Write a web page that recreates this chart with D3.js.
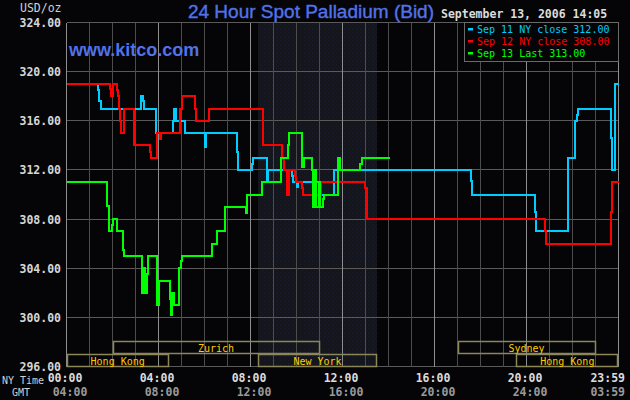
<!DOCTYPE html>
<html>
<head>
<meta charset="utf-8">
<script src="https://cdn.jsdelivr.net/npm/d3@7"></script>
<style>
  body { margin: 0; background: #050508; }
  svg { display: block; }
</style>
</head>
<body>
<svg id="chart" width="630" height="400"></svg>
<script>
// price axis + time axis
const yTicks = [296, 300, 304, 308, 312, 316, 320, 324];
const tickHours = [0, 4, 8, 12, 16, 20, 24];
const nyTickLabels = ["00:00", "04:00", "08:00", "12:00", "16:00", "20:00", "23:59"];
const gmtTickLabels = ["04:00", "08:00", "12:00", "16:00", "20:00", "24:00", "03:59"];

// Sep 11 (hours since NY midnight, bid)
const sep11Hours = [0, 1.37, 1.42, 1.48, 3.24, 3.33, 3.39, 3.87, 4.64, 4.68, 4.78, 5.14, 6.04, 6.08,
  7.42, 7.47, 8.06, 8.12, 8.72, 8.78, 9.81, 9.85, 10.03, 10.08, 10.97, 11.64, 17.59, 17.64,
  20.37, 20.42, 21.81, 22.1, 22.2, 22.25, 23.68, 23.72, 23.85, 24];
const sep11Values = [319, 318.5, 317.6, 317, 318, 317.6, 317, 315, 316, 317, 316, 315, 313.9, 315,
  313.5, 312, 312.5, 313, 311.2, 312, 311.5, 311, 310.6, 311, 310, 312, 311.1, 310,
  308.6, 307, 313, 316, 316.5, 317, 314.6, 312, 319, 319];

// Sep 12
const sep12Hours = [0, 1.9, 1.95, 2.0, 2.2, 2.24, 2.29, 2.33, 2.37, 2.5, 2.94, 3.64, 3.68, 3.94,
  4.05, 4.13, 4.93, 5.03, 5.59, 5.64, 6.19, 8.55, 9.37, 9.46, 9.6, 9.67, 9.93, 9.97, 10.23,
  10.29, 11.08, 12.97, 13.05, 20.8, 20.85, 23.68, 23.72, 24];
const sep12Values = [319, 318.6, 318, 319, 318.5, 318, 317, 316, 315, 317, 314, 313.5, 313, 315,
  314.5, 315, 317, 318, 317, 316, 317, 314, 313, 312, 310, 312, 311.5, 311, 310.5,
  310, 311, 310.5, 308, 307, 306, 308.6, 311, 311];

// Sep 13 (today, up to 14:05)
const sep13Hours = [0, 1.78, 1.83, 1.96, 2.0, 2.2, 2.46, 2.51, 3.29, 3.33, 3.42, 3.5, 3.54, 3.94,
  4.03, 4.49, 4.52, 4.55, 4.58, 4.68, 4.9, 4.99, 5.04, 6.33, 6.55, 6.91, 7.8, 7.86, 8.5, 9.33,
  9.64, 9.68, 10.24, 10.33, 10.68, 10.72, 10.8, 10.83, 10.98, 11.02, 11.16, 11.2, 11.81, 11.9,
  12.75, 12.83, 14.08];
const sep13Values = [311, 309.1, 307, 307.5, 308, 307, 305.5, 305, 302, 304, 302, 303.5, 305, 301,
  303, 301.5, 302, 300.2, 302, 301, 304, 304.6, 305, 306, 307, 309, 308.5, 310, 311, 313,
  314, 315, 312.2, 313, 312, 309, 312, 309, 311, 309, 309.6, 310, 313, 312,
  312.5, 313, 313];

const seriesLabels = ["Sep 11 NY close 312.00", "Sep 12 NY close 308.00", "Sep 13 Last 313.00"];
const seriesColors = ["#00ccff", "#ff0000", "#00ff00"];

// market sessions
const marketNames = ["Hong Kong", "Zurich", "New York", "Sydney", "Hong Kong"];
const marketStart = [0, 2, 8.33, 17, 19.55];
const marketEnd = [4.45, 11, 13.5, 23, 24];
const marketRow = [1, 0, 1, 0, 1];
const tradingStart = 8.33, tradingEnd = 13.5;

const svg = d3.select("#chart");
const mono = "'DejaVu Sans Mono', monospace";

const x = d3.scaleLinear().domain([0, 24]).range([66.5, 618.5]);
const y = d3.scaleLinear().domain([296, 324]).range([366.5, 22.5]);

// dotted pattern for the trading session shading
const defs = svg.append("defs");
const pat = defs.append("pattern")
  .attr("id", "dots").attr("width", 4).attr("height", 4)
  .attr("patternUnits", "userSpaceOnUse");
pat.append("rect").attr("width", 4).attr("height", 4).attr("fill", "#151619");
pat.append("rect").attr("x", 0).attr("y", 0).attr("width", 1).attr("height", 1).attr("fill", "#1a1d30");
pat.append("rect").attr("x", 2).attr("y", 2).attr("width", 1).attr("height", 1).attr("fill", "#1a1b22");

svg.append("rect")
  .attr("x", x(tradingStart)).attr("y", y(324))
  .attr("width", x(tradingEnd) - x(tradingStart))
  .attr("height", y(296) - y(324))
  .attr("fill", "url(#dots)");

// grid
const grid = svg.append("g").attr("shape-rendering", "crispEdges");
grid.selectAll("line.h")
  .data(yTicks)
  .join("line")
  .attr("x1", x(0)).attr("x2", x(24))
  .attr("y1", d => y(d)).attr("y2", d => y(d))
  .attr("stroke", "#5a5a5a");

grid.selectAll("line.v")
  .data(d3.range(0, 25))
  .join("line")
  .attr("x1", d => x(d)).attr("x2", d => x(d))
  .attr("y1", y(324)).attr("y2", y(296))
  .attr("stroke", d => d % 4 === 0 ? "#8e8e8e" : "#4c4c4c");

// y labels
svg.append("g").selectAll("text")
  .data(yTicks)
  .join("text")
  .attr("x", 61).attr("y", d => y(d) + 0.5)
  .attr("text-anchor", "end")
  .attr("dominant-baseline", "central")
  .attr("font-family", mono).attr("font-weight", "bold").attr("font-size", 11.5)
  .attr("fill", "#d6d6d6")
  .text(d => d.toFixed(2));

svg.append("text").attr("x", 20).attr("y", 12)
  .attr("font-family", mono).attr("font-size", 11.5).attr("fill", "#cfcfcf")
  .text("USD/oz");

// session boxes
const rowTop = [341, 354];
const boxes = svg.append("g");
marketNames.forEach((name, i) => {
  const x0 = x(marketStart[i]), x1 = x(marketEnd[i]);
  const top = rowTop[marketRow[i]] + 0.5;
  boxes.append("rect")
    .attr("x", Math.round(x0) + 0.5).attr("y", top)
    .attr("width", Math.round(x1 - x0) - 1).attr("height", 12)
    .attr("fill", "none").attr("stroke", "#8c8758").attr("stroke-width", 1.5);
  boxes.append("text")
    .attr("x", (x0 + x1) / 2).attr("y", top + 6.5)
    .attr("text-anchor", "middle").attr("dominant-baseline", "central")
    .attr("font-family", mono).attr("font-size", 10).attr("fill", "#ffcc00")
    .text(name);
});

// price lines
const line = d3.line()
  .x(d => x(d[0]))
  .y(d => y(d[1]))
  .curve(d3.curveStepAfter);

const seriesData = [
  d3.zip(sep11Hours, sep11Values),
  d3.zip(sep12Hours, sep12Values),
  d3.zip(sep13Hours, sep13Values)
];

svg.append("g").selectAll("path")
  .data(seriesData)
  .join("path")
  .attr("d", line)
  .attr("fill", "none")
  .attr("stroke", (d, i) => seriesColors[i])
  .attr("stroke-width", 2)
  .attr("shape-rendering", "crispEdges");

// legend
const lg = svg.append("g");
lg.append("rect")
  .attr("x", 464.5).attr("y", 22.5).attr("width", 154).attr("height", 39)
  .attr("fill", "#050508").attr("stroke", "#6a6a6a");
seriesLabels.forEach((t, i) => {
  lg.append("rect")
    .attr("x", 468).attr("y", 28 + i * 12).attr("width", 5).attr("height", 2.5)
    .attr("fill", seriesColors[i]);
  lg.append("text")
    .attr("x", 477).attr("y", 33 + i * 12)
    .attr("font-family", mono).attr("font-size", 10)
    .attr("fill", seriesColors[i])
    .text(t);
});

// titles
svg.append("text")
  .attr("x", 311).attr("y", 18)
  .attr("text-anchor", "middle")
  .attr("font-family", "'Liberation Sans', Arial, sans-serif").attr("font-size", 19)
  .attr("fill", "#5272e8")
  .attr("stroke", "#5272e8").attr("stroke-width", 0.4)
  .text("24 Hour Spot Palladium (Bid)");

svg.append("text")
  .attr("x", 441).attr("y", 18)
  .attr("font-family", mono).attr("font-weight", "bold").attr("font-size", 11.5)
  .attr("fill", "#dcdcdc")
  .text("September 13, 2006 14:05");

svg.append("text")
  .attr("x", 69).attr("y", 56)
  .attr("font-family", "'Liberation Sans', Arial, sans-serif").attr("font-weight", "bold")
  .attr("font-size", 18)
  .attr("fill", "#5272e8")
  .text("www.kitco.com");

// time axis labels
const axisG = svg.append("g").attr("font-family", mono).attr("font-weight", "bold").attr("font-size", 11.5);
axisG.selectAll("text.ny")
  .data(tickHours)
  .join("text")
  .attr("x", (d, i) => i === tickHours.length - 1 ? 625 : x(d) - 1.5)
  .attr("y", 378)
  .attr("text-anchor", (d, i) => i === tickHours.length - 1 ? "end" : "middle")
  .attr("dominant-baseline", "central")
  .attr("fill", "#dcdcdc")
  .text((d, i) => nyTickLabels[i]);

axisG.selectAll("text.gmt")
  .data(tickHours)
  .join("text")
  .attr("x", (d, i) => i === tickHours.length - 1 ? 625 : x(d) + 3.5)
  .attr("y", 392)
  .attr("text-anchor", (d, i) => i === tickHours.length - 1 ? "end" : "middle")
  .attr("dominant-baseline", "central")
  .attr("fill", "#9a9a9a")
  .text((d, i) => gmtTickLabels[i]);

svg.append("text").attr("x", 2).attr("y", 384)
  .attr("font-family", mono).attr("font-size", 10).attr("fill", "#cfcfcf")
  .text("NY Time");
svg.append("text").attr("x", 12).attr("y", 396)
  .attr("font-family", mono).attr("font-size", 10).attr("fill", "#cfcfcf")
  .text("GMT");
</script>
</body>
</html>
